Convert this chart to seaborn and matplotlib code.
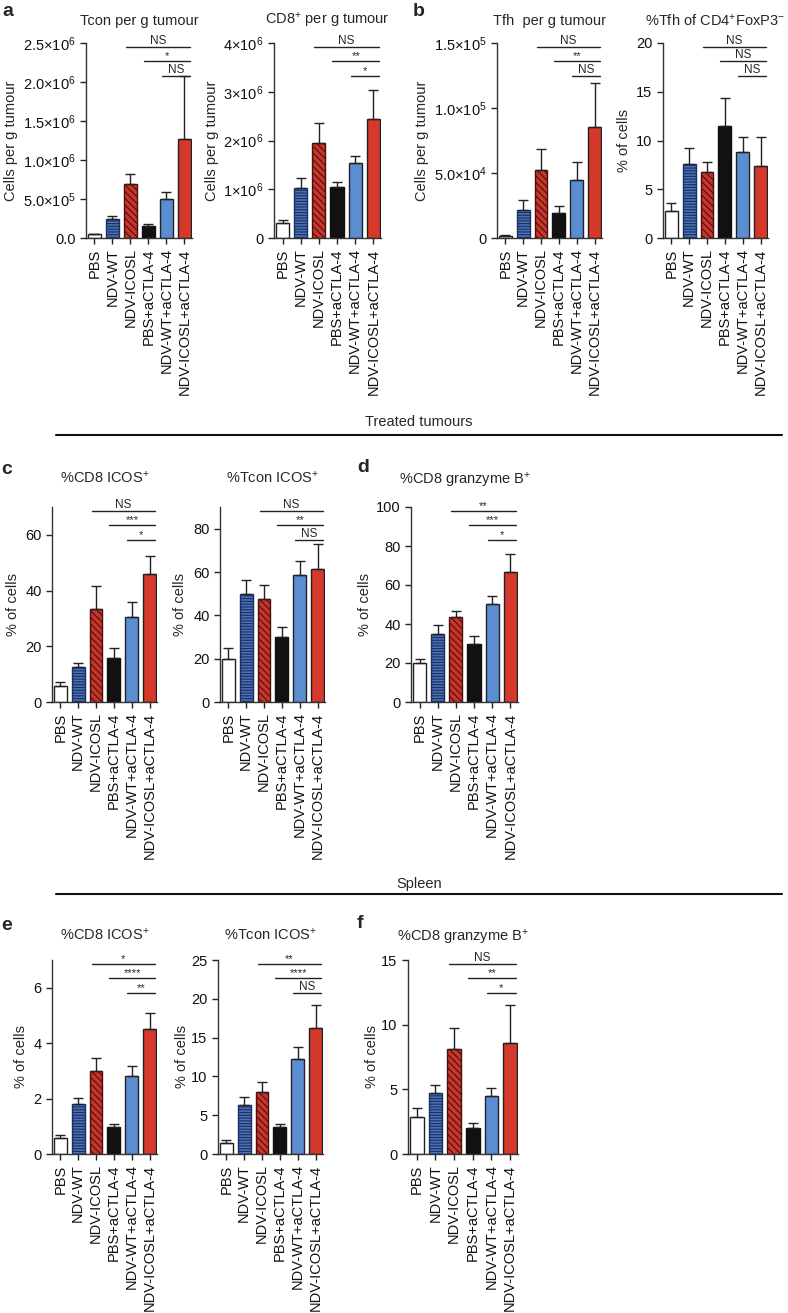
"""
Bar charts of T cell populations in treated tumours and spleen (panels a-f).
"""

import numpy as np
import matplotlib
matplotlib.use("Agg")
import matplotlib.pyplot as plt
import seaborn as sns
from matplotlib.lines import Line2D

GROUPS = ["PBS", "NDV-WT", "NDV-ICOSL", "PBS+aCTLA-4", "NDV-WT+aCTLA-4",
          "NDV-ICOSL+aCTLA-4"]

# valeurs (moyenne, demi barre d'erreur)
TCON_TUMOUR = [0.045e6, 0.248e6, 0.697e6, 0.154e6, 0.496e6, 1.265e6]
TCON_TUMOUR_ERR = [0.01e6, 0.03e6, 0.12e6, 0.02e6, 0.10e6, 0.81e6]
CD8_TUMOUR = [0.31e6, 1.03e6, 1.95e6, 1.05e6, 1.545e6, 2.45e6]
CD8_TUMOUR_ERR = [0.05e6, 0.20e6, 0.40e6, 0.10e6, 0.14e6, 0.58e6]
TFH_TUMOUR = [0.15e4, 2.13e4, 5.26e4, 1.95e4, 4.5e4, 8.54e4]
TFH_TUMOUR_ERR = [0.08e4, 0.77e4, 1.6e4, 0.5e4, 1.35e4, 3.4e4]
PCT_TFH = [2.73, 7.62, 6.77, 11.52, 8.82, 7.38]
PCT_TFH_ERR = [0.86, 1.64, 1.0, 2.87, 1.5, 2.94]

CD8_ICOS_TUM = [5.9, 12.4, 33.4, 15.7, 30.4, 45.8]
CD8_ICOS_TUM_ERR = [1.3, 1.7, 8.2, 3.6, 5.5, 6.7]
TCON_ICOS_TUM = [20.0, 49.8, 47.5, 30.2, 58.4, 61.5]
TCON_ICOS_TUM_ERR = [5.1, 6.7, 6.7, 4.2, 6.5, 11.3]
CD8_GZMB_TUM = [20.0, 35.0, 43.4, 29.9, 50.3, 66.7]
CD8_GZMB_TUM_ERR = [1.9, 4.3, 3.4, 3.9, 4.1, 9.4]

CD8_ICOS_SPL = [0.59, 1.81, 3.0, 0.98, 2.82, 4.5]
CD8_ICOS_SPL_ERR = [0.1, 0.2, 0.48, 0.1, 0.36, 0.58]
TCON_ICOS_SPL = [1.46, 6.27, 7.94, 3.43, 12.19, 16.27]
TCON_ICOS_SPL_ERR = [0.34, 1.07, 1.37, 0.39, 1.63, 2.9]
CD8_GZMB_SPL = [2.88, 4.73, 8.15, 2.03, 4.52, 8.61]
CD8_GZMB_SPL_ERR = [0.64, 0.64, 1.62, 0.36, 0.6, 2.88]

# comparaisons (NDV-ICOSL, PBS+aCTLA-4, NDV-WT+aCTLA-4) vs NDV-ICOSL+aCTLA-4
SIG_A1 = ["NS", "*", "NS"]
SIG_A2 = ["NS", "**", "*"]
SIG_B1 = ["NS", "**", "NS"]
SIG_B2 = ["NS", "NS", "NS"]
SIG_C1 = ["NS", "***", "*"]
SIG_C2 = ["NS", "**", "NS"]
SIG_D = ["**", "***", "*"]
SIG_E1 = ["*", "****", "**"]
SIG_E2 = ["**", "****", "NS"]
SIG_F = ["NS", "**", "*"]

TICKS_A1 = [0, 5e5, 1e6, 1.5e6, 2e6, 2.5e6]
TICKLABELS_A1 = ["0.0", "5.0×10$^{5}$", "1.0×10$^{6}$", "1.5×10$^{6}$",
                 "2.0×10$^{6}$", "2.5×10$^{6}$"]
TICKS_A2 = [0, 1e6, 2e6, 3e6, 4e6]
TICKLABELS_A2 = ["0", "1×10$^{6}$", "2×10$^{6}$", "3×10$^{6}$", "4×10$^{6}$"]
TICKS_B1 = [0, 5e4, 1e5, 1.5e5]
TICKLABELS_B1 = ["0", "5.0×10$^{4}$", "1.0×10$^{5}$", "1.5×10$^{5}$"]

COLOURS = ["#ffffff", "#4a70b5", "#c8352b", "#111111", "#5b8dd3", "#d5392c"]
HATCHES = [None, "------", "\\" * 5, None, None, None]
EDGES = ["#222222", "#1b2f60", "#4a100c", "#111111", "#222222", "#222222"]
SIG_Y = [0.978, 0.907, 0.829]

W, H = 788, 1313

sns.set_style("ticks")
plt.rcParams["font.family"] = ["Liberation Sans", "DejaVu Sans"]
plt.rcParams["mathtext.fontset"] = "custom"
plt.rcParams["mathtext.rm"] = "Liberation Sans"
plt.rcParams["mathtext.it"] = "Liberation Sans:italic"
plt.rcParams["mathtext.bf"] = "Liberation Sans:bold"
plt.rcParams["hatch.linewidth"] = 0.8
plt.rcParams["axes.linewidth"] = 1.0

fig = plt.figure(figsize=(W / 100, H / 100), dpi=100)


def fx(px):
    return px / W


def fy(py):
    return 1 - py / H


def panel(left, right, top, bottom, title, title_y, values, errs, ylim,
          ticks, ticklabels, sig, ylabel, ylabel_x):
    ax = fig.add_axes([fx(left), fy(bottom), (right - left) / W,
                       (bottom - top) / H])
    sns.barplot(x=GROUPS, y=values, hue=GROUPS, palette=COLOURS,
                legend=False, saturation=1, width=0.72, edgecolor="#222222",
                linewidth=1.0, errorbar=None, ax=ax)
    for patch, hatch, edge in zip(ax.patches, HATCHES, EDGES):
        patch.set_edgecolor(edge)
        if hatch:
            patch.set_hatch(hatch)
    ax.errorbar(np.arange(len(GROUPS)), values,
                yerr=[np.zeros(len(values)), errs], fmt="none",
                ecolor="#222222", elinewidth=1, capsize=3.5, capthick=1)

    ax.set_xlim(-0.47, 5.42)
    ax.set_ylim(*ylim)
    ax.set_yticks(ticks)
    ax.set_yticklabels(ticklabels)
    ax.set_xticks(range(len(GROUPS)))
    ax.set_xticklabels(GROUPS, rotation=90)
    ax.set_xlabel("")
    ax.set_ylabel("")
    ax.tick_params(direction="out", length=4, width=1, colors="#222222",
                   labelsize=10.5, labelcolor="#111111")
    sns.despine(ax=ax)
    for side in ("left", "bottom"):
        ax.spines[side].set_color("#333333")

    trans = ax.get_xaxis_transform()
    for level, (start, label) in enumerate(zip([2, 3, 4], sig)):
        y = SIG_Y[level]
        x0, x1 = start - 0.25, 5.3
        ax.plot([x0, x1], [y, y], transform=trans, color="#222222", lw=1,
                clip_on=False)
        ax.annotate(label, xy=((x0 + x1) / 2, y), xycoords=trans,
                    xytext=(0, 0.3), textcoords="offset points",
                    ha="center", va="bottom",
                    fontsize=8.5 if label == "NS" else 8)

    fig.text(fx((left + right) / 2), fy(title_y), title, ha="center",
             va="center", fontsize=10.5)
    fig.text(fx(ylabel_x), fy((top + bottom) / 2), ylabel, rotation=90,
             ha="center", va="center", fontsize=10.5)
    return ax


# ligne 1 : tumeurs
panel(86, 192, 43, 238, "Tcon per g tumour", 21, TCON_TUMOUR,
      TCON_TUMOUR_ERR, (0, 2.5e6), TICKS_A1, TICKLABELS_A1, SIG_A1,
      "Cells per g tumour", 11)
panel(274, 381, 43, 238, "CD8$^{+}$ per g tumour", 21, CD8_TUMOUR,
      CD8_TUMOUR_ERR, (0, 4e6), TICKS_A2, TICKLABELS_A2, SIG_A2,
      "Cells per g tumour", 212)
panel(497, 602, 43, 238, "Tfh  per g tumour", 21, TFH_TUMOUR,
      TFH_TUMOUR_ERR, (0, 1.5e5), TICKS_B1, TICKLABELS_B1, SIG_B1,
      "Cells per g tumour", 422)
panel(663, 768, 43, 238, "%Tfh of CD4$^{+}$FoxP3$^{-}$", 21, PCT_TFH,
      PCT_TFH_ERR, (0, 20), [0, 5, 10, 15, 20], ["0", "5", "10", "15", "20"],
      SIG_B2, "% of cells", 624)

# ligne 2 : tumeurs traitées
panel(52, 157, 507, 702, "%CD8 ICOS$^{+}$", 478, CD8_ICOS_TUM,
      CD8_ICOS_TUM_ERR, (0, 70), [0, 20, 40, 60], ["0", "20", "40", "60"],
      SIG_C1, "% of cells", 13)
panel(220, 325, 507, 702, "%Tcon ICOS$^{+}$", 478, TCON_ICOS_TUM,
      TCON_ICOS_TUM_ERR, (0, 90), [0, 20, 40, 60, 80],
      ["0", "20", "40", "60", "80"], SIG_C2, "% of cells", 180)
panel(411, 518, 507, 702, "%CD8 granzyme B$^{+}$", 480, CD8_GZMB_TUM,
      CD8_GZMB_TUM_ERR, (0, 100), [0, 20, 40, 60, 80, 100],
      ["0", "20", "40", "60", "80", "100"], SIG_D, "% of cells", 365)

# ligne 3 : rate
panel(52, 157, 960, 1154, "%CD8 ICOS$^{+}$", 935, CD8_ICOS_SPL,
      CD8_ICOS_SPL_ERR, (0, 7), [0, 2, 4, 6], ["0", "2", "4", "6"],
      SIG_E1, "% of cells", 21)
panel(218, 323, 960, 1154, "%Tcon ICOS$^{+}$", 935, TCON_ICOS_SPL,
      TCON_ICOS_SPL_ERR, (0, 25), [0, 5, 10, 15, 20, 25],
      ["0", "5", "10", "15", "20", "25"], SIG_E2, "% of cells", 182)
panel(408, 518, 960, 1154, "%CD8 granzyme B$^{+}$", 937, CD8_GZMB_SPL,
      CD8_GZMB_SPL_ERR, (0, 15), [0, 5, 10, 15], ["0", "5", "10", "15"],
      SIG_F, "% of cells", 372)

# séparateurs et lettres
for text, ty, ly in [("Treated tumours", 422, 435), ("Spleen", 884, 894)]:
    fig.text(fx(419), fy(ty), text, ha="center", va="center", fontsize=10.5)
    fig.add_artist(Line2D([fx(56), fx(782)], [fy(ly), fy(ly)],
                          color="#111111", lw=1.5))

for letter, lx, ly in [("a", 8, 12), ("b", 419, 12), ("c", 7, 469),
                       ("d", 363, 468), ("e", 7, 925), ("f", 360, 923)]:
    fig.text(fx(lx), fy(ly), letter, ha="center", va="center",
             fontsize=14, fontweight="bold")

fig.savefig("out.png", dpi=100)
